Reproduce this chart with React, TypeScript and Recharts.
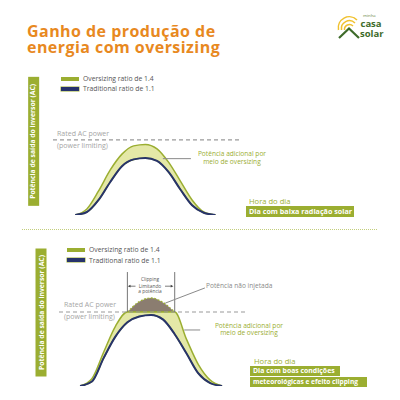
import React from 'react';
import { ComposedChart, Area, Line, XAxis, YAxis, ReferenceLine } from 'recharts';

// ---- data (hour of day, output relative to rated AC power = 100) ----
const hours = [6, 7, 8, 9, 10, 11, 12, 13, 14, 15, 16, 17, 18];
const lowOver = [0, 8, 32, 60, 81, 92, 94, 88, 70, 45, 20, 4, 0];
const lowTrad = [0, 4, 20, 44, 65, 74, 76, 72, 57, 34, 13, 3, 0];
const goodOver = [0, 10, 46, 81, 100, 114, 119, 113, 100, 63, 29, 8, 0];
const goodTrad = [0, 6, 38, 67, 86, 94, 96, 90, 70, 44, 17, 4, 0];
const RATED = 100;

const titleLines = ['Ganho de produção de', 'energia com oversizing'];
const logoWords = ['minha', 'casa', 'solar'];
const legendLabels = ['Oversizing ratio de 1.4', 'Traditional ratio de 1.1'];
const yTitle = 'Potência de saída do inversor (AC)';
const ratedLabel = ['Rated AC power', '(power limiting)'];
const extraLabel = ['Potência adicional por', 'meio de oversizing'];
const xTitle = 'Hora do dia';
const lowCaption = ['Dia com baixa radiação solar'];
const goodCaption = ['Dia com boas condições', 'meteorológicas e efeito clipping'];
const clipLabel = ['Clipping', 'Limitando', 'a potência'];
const lostLabel = 'Potência não injetada';

const GREEN = '#9BAE31';
const LIGHT = '#E4E8A7';
const NAVY = '#27336B';
const BROWN = '#8B7D70';
const AXIS = '#8C8C8C';
const ORANGE = '#E8891F';
const LOGO_GREEN = '#3E6B2A';
const FONT = '"Open Sans", sans-serif';

const lowData = hours.map((h, i) => ({ h, trad: lowTrad[i], over: lowOver[i], band: [lowTrad[i], lowOver[i]] }));
const goodData = hours.map((h, i) => ({
  h,
  trad: goodTrad[i],
  band: [goodTrad[i], Math.min(goodOver[i], RATED)],
  clip: goodOver[i] >= RATED ? [RATED, goodOver[i]] : null,
}));

const T = ({ x, y, size, color, weight = 400, children, center = false, w }: any) => (
  <div
    style={{
      position: 'absolute',
      left: center ? x - (w || 100) / 2 : x,
      top: y - size * 0.68,
      width: center ? w || 100 : undefined,
      textAlign: center ? 'center' : 'left',
      fontSize: size,
      lineHeight: `${size * 1.36}px`,
      color,
      fontWeight: weight,
      fontFamily: FONT,
      whiteSpace: 'nowrap',
    }}
  >
    {children}
  </div>
);

const Box = ({ x, y, w, h, text, size = 7.2 }: any) => (
  <div
    style={{
      position: 'absolute',
      left: x,
      top: y,
      width: w,
      height: h,
      background: GREEN,
      color: '#fff',
      fontFamily: FONT,
      fontWeight: 700,
      fontSize: size,
      lineHeight: `${h}px`,
      paddingLeft: 3,
      boxSizing: 'border-box',
      whiteSpace: 'nowrap',
      overflow: 'hidden',
    }}
  >
    {text}
  </div>
);

const VTitle = ({ cx, cy, len, thick }: any) => (
  <div
    style={{
      position: 'absolute',
      left: cx - len / 2,
      top: cy - thick / 2,
      width: len,
      height: thick,
      background: GREEN,
      color: '#fff',
      fontFamily: FONT,
      fontWeight: 700,
      fontSize: 6.8,
      lineHeight: `${thick}px`,
      textAlign: 'center',
      transform: 'rotate(-90deg)',
      whiteSpace: 'nowrap',
    }}
  >
    {yTitle}
  </div>
);

const Legend = ({ x, y, gap }: any) => (
  <>
    <div style={{ position: 'absolute', left: x, top: y - 2, width: 18, height: 4, background: GREEN }} />
    <div style={{ position: 'absolute', left: x, top: y + gap - 2, width: 18, height: 4, background: NAVY, boxShadow: `0 0 0 0.5px ${GREEN}` }} />
    <T x={x + 22} y={y} size={6.8} color="#555">{legendLabels[0]}</T>
    <T x={x + 22} y={y + gap} size={6.8} color="#555">{legendLabels[1]}</T>
  </>
);

const Logo = () => (
  <>
    <svg style={{ position: 'absolute', left: 336, top: 8 }} width={26} height={34}>
      <g fill="none" stroke="#F0C12E" strokeWidth={1.5}>
        <path d="M5.5 22 A8 8 0 0 1 19 15" />
        <path d="M2.5 22 A11 11 0 0 1 21 12" />
        <path d="M8.5 22 A5 5 0 0 1 17 18" />
      </g>
      <path d="M3 30 L13 20.5 L23 30" fill="none" stroke={LOGO_GREEN} strokeWidth={2.2} />
    </svg>
    <div style={{ position: 'absolute', left: 363, top: 12.5, fontFamily: FONT, fontSize: 4.3, lineHeight: '4.5px', color: '#6E8A4A', whiteSpace: 'nowrap' }}>
      {logoWords[0]}
    </div>
    <div style={{ position: 'absolute', left: 360.5, top: 18.5, fontFamily: FONT, fontWeight: 700, fontSize: 9.5, lineHeight: '9px', color: LOGO_GREEN, whiteSpace: 'nowrap' }}>
      {logoWords[1]}
    </div>
    <div style={{ position: 'absolute', left: 360, top: 28.5, fontFamily: FONT, fontWeight: 700, fontSize: 9.5, lineHeight: '9px', color: LOGO_GREEN, whiteSpace: 'nowrap' }}>
      {logoWords[2]}
    </div>
  </>
);

export default function App() {
  return (
    <div style={{ position: 'absolute', left: 0, top: 0, width: 400, height: 400, background: '#fff', overflow: 'hidden' }}>
      {/* Title */}
      {titleLines.map((t, i) => (
        <div
          key={t}
          style={{ position: 'absolute', left: 27, top: 23.5 + i * 16.6, fontFamily: FONT, fontWeight: 700, fontSize: 16, letterSpacing: 0.45, lineHeight: '14px', color: ORANGE, whiteSpace: 'nowrap' }}
        >
          {t}
        </div>
      ))}
      <Logo />

      {/* Chart 1 */}
      <div style={{ position: 'absolute', left: 0, top: 0 }}>
        <ComposedChart width={400} height={230} data={lowData} margin={{ top: 67, right: 160, bottom: 15, left: 53 }}>
          <XAxis type="number" dataKey="h" domain={[4.1, 20.1]} tick={false} tickLine={false} height={0} axisLine={{ stroke: AXIS }} allowDataOverflow />
          <YAxis type="number" domain={[0, 197]} tick={false} tickLine={false} width={0} axisLine={{ stroke: AXIS }} allowDataOverflow />
          <ReferenceLine y={RATED} stroke="#9A9A9A" strokeDasharray="4 3" strokeWidth={1.2} />
          <Area type="monotone" dataKey="band" fill={LIGHT} fillOpacity={1} stroke={GREEN} strokeWidth={1.5} isAnimationActive={false} />
          <Line type="monotone" dataKey="trad" stroke={NAVY} strokeWidth={2} dot={false} isAnimationActive={false} />
          <ReferenceLine segment={[{ x: 13.5, y: 75 }, { x: 15.9, y: 75 }]} stroke="#8A8A8A" strokeWidth={1} />
        </ComposedChart>
      </div>

      {/* Chart 2 */}
      <div style={{ position: 'absolute', left: 0, top: 220 }}>
        <ComposedChart width={400} height={180} data={goodData} margin={{ top: 18, right: 155, bottom: 14, left: 59 }}>
          <XAxis type="number" dataKey="h" domain={[4.22, 19.94]} tick={false} tickLine={false} height={0} axisLine={{ stroke: AXIS }} allowDataOverflow />
          <YAxis type="number" domain={[0, 200]} tick={false} tickLine={false} width={0} axisLine={{ stroke: AXIS }} allowDataOverflow />
          <ReferenceLine y={RATED} stroke="#9A9A9A" strokeDasharray="4 3" strokeWidth={1.2} />
          <ReferenceLine segment={[{ x: 10, y: RATED }, { x: 10, y: 154 }]} stroke="#777" strokeWidth={1} />
          <ReferenceLine segment={[{ x: 14, y: RATED }, { x: 14, y: 154 }]} stroke="#777" strokeWidth={1} />
          <Area type="monotone" dataKey="clip" fill={BROWN} fillOpacity={1} stroke={GREEN} strokeDasharray="2 1.5" strokeWidth={1.2} isAnimationActive={false} />
          <Area type="monotone" dataKey="band" fill={LIGHT} fillOpacity={1} stroke={GREEN} strokeWidth={1.5} isAnimationActive={false} />
          <Line type="monotone" dataKey="trad" stroke={NAVY} strokeWidth={2} dot={false} isAnimationActive={false} />
          <ReferenceLine segment={[{ x: 13.2, y: 112 }, { x: 16.55, y: 132.5 }]} stroke="#8A8A8A" strokeWidth={1} />
          <ReferenceLine segment={[{ x: 14.8, y: 75.7 }, { x: 16.15, y: 75.7 }]} stroke="#8A8A8A" strokeWidth={1} />
        </ComposedChart>
      </div>

      {/* arrows for clipping bracket */}
      <svg style={{ position: 'absolute', left: 0, top: 0 }} width={400} height={400}>
        <line x1={129} y1={286.2} x2={135.5} y2={286.2} stroke="#444" strokeWidth={0.7} />
        <polygon points="127.8,286.2 130.5,284.8 130.5,287.6" fill="#444" />
        <line x1={165} y1={286.2} x2={172} y2={286.2} stroke="#444" strokeWidth={0.7} />
        <polygon points="173.4,286.2 170.7,284.8 170.7,287.6" fill="#444" />
      </svg>

      {/* Chart 1 annotations */}
      <VTitle cx={33.7} cy={141.3} len={129} thick={10.7} />
      <Legend x={61} y={79} gap={10} />
      <T x={57} y={133.5} size={7} color="#A5A5A5">{ratedLabel[0]}</T>
      <T x={57} y={145.7} size={7} color="#A5A5A5">{ratedLabel[1]}</T>
      <T x={232} y={154.3} size={6.6} color={GREEN} center w={90}>{extraLabel[0]}</T>
      <T x={232} y={162.3} size={6.6} color={GREEN} center w={90}>{extraLabel[1]}</T>
      <T x={249} y={200.7} size={7.6} color={GREEN}>{xTitle}</T>
      <Box x={246} y={206} w={108} h={10.7} text={lowCaption[0]} />

      {/* separator */}
      <div style={{ position: 'absolute', left: 22, top: 228.5, width: 355, borderTop: '1px dotted #C3CE7C' }} />

      {/* Chart 2 annotations */}
      <VTitle cx={40.5} cy={312} len={128} thick={11} />
      <Legend x={67} y={250} gap={10.3} />
      <T x={64} y={305} size={7} color="#A5A5A5">{ratedLabel[0]}</T>
      <T x={64} y={317.2} size={7} color="#A5A5A5">{ratedLabel[1]}</T>
      <T x={150} y={279.6} size={4.8} color="#555" center w={40}>{clipLabel[0]}</T>
      <T x={150} y={286} size={4.8} color="#555" center w={40}>{clipLabel[1]}</T>
      <T x={150} y={291.5} size={4.8} color="#555" center w={40}>{clipLabel[2]}</T>
      <T x={206} y={286.7} size={6.6} color="#8A8A8A">{lostLabel}</T>
      <T x={249} y={326} size={6.6} color={GREEN} center w={90}>{extraLabel[0]}</T>
      <T x={249} y={333.5} size={6.6} color={GREEN} center w={90}>{extraLabel[1]}</T>
      <T x={254} y={360.7} size={7.6} color={GREEN}>{xTitle}</T>
      <Box x={250} y={366} w={89.5} h={10} text={goodCaption[0]} size={6.9} />
      <Box x={250} y={377} w={117} h={10.3} text={goodCaption[1]} size={6.6} />
    </div>
  );
}
